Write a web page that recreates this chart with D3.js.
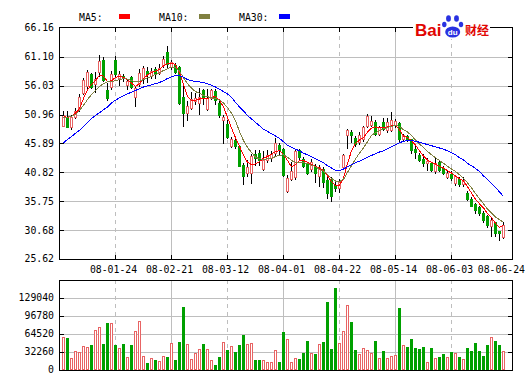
<!DOCTYPE html>
<html>
<head>
<meta charset="utf-8">
<script src="https://d3js.org/d3.v7.min.js"></script>
<style>
  body { margin: 0; background: #fff; }
  svg text { font-family: "DejaVu Sans Mono", monospace; font-size: 9.8px; fill: #000; }
  .grid { stroke: #bebebe; stroke-width: 1; shape-rendering: crispEdges; }
  .frame { stroke: #000; fill: none; stroke-width: 1; shape-rendering: crispEdges; }
  .tick { stroke: #000; stroke-width: 1; shape-rendering: crispEdges; }
</style>
</head>
<body>
<div id="chart"></div>
<script>
// daily candles: [open, high, low, close]
const ohlc = [
  [49.0,51.6,48.9,50.9],[50.5,51.6,48.7,48.8],[48.7,50.9,48.5,50.6],[50.6,52.2,50.4,51.6],[51.9,54.6,51.6,54.0],
  [54.8,57.3,54.6,57.0],[55.9,58.8,55.6,58.5],[58.0,58.2,55.6,55.8],[56.3,58.5,54.9,57.2],[58.5,61.5,57.8,60.4],
  [60.5,61.1,56.8,57.0],[55.2,56.5,53.5,53.9],[55.8,58.6,55.4,58.0],[60.5,61.3,57.6,58.0],[57.4,58.6,56.2,58.0],
  [57.8,58.1,56.9,57.4],[56.2,57.2,55.4,56.9],[57.5,57.7,55.6,55.8],[54.0,56.0,52.5,55.6],[56.4,58.9,56.0,58.3],
  [57.4,59.5,56.5,59.1],[58.6,59.4,56.6,58.0],[57.7,59.1,57.4,58.6],[58.9,59.4,57.4,58.0],[58.3,59.8,58.0,59.1],
  [59.6,61.3,59.3,60.8],[61.9,63.0,59.4,59.8],[59.3,60.6,58.9,60.2],[59.6,60.0,58.3,58.5],[59.3,59.5,52.8,53.0],
  [54.1,55.9,48.9,51.2],[51.2,53.3,50.0,52.4],[52.2,55.0,52.0,53.7],[53.3,54.7,52.8,53.9],[53.0,55.6,51.1,54.1],
  [55.2,55.4,52.9,53.8],[51.9,55.4,51.8,53.8],[53.9,55.4,53.7,55.2],[55.1,55.4,52.9,53.6],[53.0,53.6,50.6,50.9],
  [50.0,50.9,45.9,50.5],[49.3,50.0,46.8,47.1],[45.5,47.1,45.3,46.7],[46.5,46.8,45.1,45.4],[45.4,45.7,41.9,42.0],
  [42.1,42.4,38.8,40.1],[40.8,43.0,40.1,41.8],[40.8,44.1,38.9,43.7],[44.1,44.7,42.2,43.3],[44.2,44.8,42.1,43.0],
  [41.4,44.5,41.3,43.0],[43.0,44.8,42.7,43.9],[43.3,44.5,42.9,44.0],[44.2,46.8,43.9,45.9],[45.6,46.0,43.9,44.8],
  [44.9,45.1,40.2,40.4],[37.5,40.4,37.3,39.9],[39.7,42.6,39.4,41.1],[40.0,44.8,39.7,44.5],[44.8,45.0,43.2,43.6],
  [43.1,43.5,41.7,42.0],[42.3,42.6,40.5,40.8],[41.4,43.2,41.1,42.7],[42.0,42.3,39.1,40.7],[40.2,42.1,38.5,41.7],
  [41.4,41.7,38.2,39.1],[39.4,40.0,36.3,37.2],[39.7,40.0,35.8,36.7],[38.6,39.2,37.6,38.0],[38.0,39.7,37.3,39.1],
  [41.7,44.1,41.5,43.9],[47.3,48.5,45.1,48.3],[47.9,48.2,46.1,47.3],[46.8,47.2,45.5,45.8],[46.2,47.9,45.8,47.4],
  [46.7,48.9,46.4,48.7],[49.0,51.1,48.7,50.7],[49.1,50.7,48.9,49.9],[49.7,50.1,47.4,47.6],[47.6,49.0,47.3,48.7],
  [49.6,50.4,48.2,48.4],[48.2,50.4,47.9,49.6],[48.3,51.4,48.1,50.0],[49.1,50.2,48.7,49.9],[49.5,49.6,46.3,46.6],
  [46.7,47.5,46.5,47.3],[47.2,47.4,46.4,46.7],[46.6,46.7,44.2,44.8],[45.0,45.4,43.4,44.4],[43.8,44.2,42.8,43.0],
  [43.2,44.0,41.9,42.4],[42.5,43.4,41.3,42.8],[42.4,42.6,41.0,41.3],[41.0,43.4,40.8,42.5],[42.6,42.8,41.0,41.2],
  [41.6,41.9,40.6,40.8],[40.0,41.3,39.8,40.8],[40.6,41.0,39.5,39.8],[38.9,40.4,38.6,40.1],[39.7,40.0,38.5,38.7],
  [38.7,40.0,38.5,39.5],[37.2,37.5,36.0,36.2],[36.2,36.5,34.9,35.0],[35.2,35.5,33.7,34.3],[34.8,35.0,33.4,33.7],
  [33.7,34.0,32.2,32.5],[33.1,33.4,31.3,31.5],[31.4,32.8,29.7,32.5],[32.1,32.2,29.7,30.2],[30.5,30.6,28.9,30.2],
  [29.5,32.1,29.3,31.6]
];

const volume = [
  59700,58000,22100,34600,32900,43600,41800,44200,72300,77700,
  47200,84800,84800,44200,40000,46000,23900,44200,70500,88400,
  25700,11900,21500,18500,16700,25700,23900,49000,18500,50800,
  112300,47200,20300,31100,38200,47200,37600,17900,9600,23900,
  50200,35800,43000,31700,45400,63300,46600,48400,17900,17900,
  17900,14300,14300,35800,14300,68700,55600,14300,21500,19700,
  31100,52000,31100,29300,46600,50200,121900,37600,147000,48400,
  69900,116500,86000,35800,28700,39400,35800,31100,52000,21500,
  34100,21500,25100,27500,111100,44800,41800,55600,39400,37600,
  41200,14300,39400,21500,23900,28700,23300,32300,30500,23300,
  19700,39400,34600,48400,34100,25100,44800,59100,52000,45400,
  34100
];

const ma5 = [
  50.6,50.5,50.6,51.2,52.0,53.8,55.3,56.3,56.9,57.9,
  57.7,56.8,56.9,57.5,57.7,57.5,57.1,56.5,55.9,56.4,
  57.3,57.9,58.3,58.6,58.9,59.5,59.9,60.0,59.7,58.3,
  56.2,54.2,53.4,53.5,53.7,53.8,53.8,54.0,54.1,53.5,
  52.3,50.5,48.6,46.9,45.4,43.8,42.6,42.2,42.3,42.7,
  43.3,43.6,44.0,44.5,44.6,44.0,42.9,41.8,42.2,42.9,
  42.9,42.6,42.2,41.9,41.6,41.1,40.2,39.2,38.5,38.6,
  39.8,42.4,44.6,45.9,46.5,46.9,47.9,48.6,48.8,48.7,
  48.7,48.8,49.0,49.1,48.3,47.2,46.9,46.4,45.6,44.6,
  43.7,43.0,42.6,42.3,41.9,41.6,41.1,40.7,40.2,39.7,
  39.3,38.3,37.2,36.1,35.3,34.6,33.6,32.9,31.9,31.2,
  31.5
];

const ma10 = [
  50.4,50.5,50.7,51.0,51.7,52.6,53.6,54.5,55.2,55.9,
  56.4,56.7,56.8,56.9,57.1,57.3,57.2,56.9,56.8,56.8,
  57.1,57.4,57.7,58.0,58.3,58.7,59.0,59.3,59.2,58.6,
  57.4,56.4,55.6,55.0,54.7,54.3,54.1,53.9,53.8,53.5,
  53.0,52.2,51.2,49.9,48.0,46.4,45.2,44.3,43.5,43.2,
  43.1,43.2,43.3,43.6,43.8,43.9,43.5,42.9,42.6,42.6,
  42.5,42.4,42.1,41.8,41.4,41.0,40.5,39.8,39.3,39.2,
  39.6,40.8,42.0,43.2,44.2,45.1,46.2,47.3,47.8,48.1,
  48.5,48.7,48.9,49.1,48.9,48.3,47.9,47.3,46.5,45.8,
  45.2,44.5,43.9,43.4,42.9,42.4,41.9,41.4,41.0,40.4,
  39.8,39.0,38.1,37.1,36.2,35.3,34.4,33.7,33.0,32.5,
  32.1
];

const ma30 = [
  46.0,46.6,47.1,47.7,48.2,48.9,49.6,50.3,50.8,51.3,
  51.8,52.3,53.0,53.5,53.9,54.3,54.6,54.9,55.2,55.5,
  55.8,56.0,56.2,56.4,56.6,56.9,57.3,57.6,57.8,57.8,
  57.5,57.1,56.9,56.8,56.7,56.6,56.4,56.1,55.8,55.4,
  55.0,54.6,54.0,53.1,52.3,51.6,50.8,50.2,49.6,49.0,
  48.4,48.0,47.6,47.2,46.8,46.2,45.6,45.2,44.9,44.6,
  44.2,43.9,43.6,43.2,42.9,42.5,42.0,41.6,41.2,41.1,
  41.4,41.8,42.2,42.5,42.8,43.1,43.5,43.8,44.1,44.4,
  44.6,45.0,45.3,45.7,46.0,46.3,46.4,46.4,46.3,46.1,
  45.9,45.7,45.5,45.3,45.1,44.9,44.6,44.3,43.9,43.4,
  43.0,42.4,42.0,41.5,41.0,40.2,39.6,38.9,38.2,37.4,
  36.6
];

// date labels and the candle they sit under
const dateLabels = ["08-01-24","08-02-21","08-03-12","08-04-01","08-04-22","08-05-14","08-06-03","08-06-24"];
const dateIndex  = [13, 27, 41, 55, 69, 83, 97, 110];

const priceTicks  = [25.62, 30.68, 35.75, 40.82, 45.89, 50.96, 56.03, 61.10, 66.16];
const volumeTicks = [0, 32260, 64520, 96780, 129040];

const maNames  = ["MA5:", "MA10:", "MA30:"];
const maColors = ["#ff0000", "#808040", "#0000ff"];

const RED = "#e86464", GREEN = "#00a000";

const W = 525, H = 387;
const L = 60, R = 512;
const pTop = 28, pBot = 259;
const vTop = 280, vBot = 370;

const svg = d3.select("#chart").append("svg")
  .attr("width", W).attr("height", H);

const x = d3.scaleBand().domain(d3.range(ohlc.length)).range([61.5, 505.5]);
const cx = i => Math.floor(x(i) + x.bandwidth() / 2) + 0.5;

const y = d3.scaleLinear().domain([25.62, 66.16]).range([pBot, pTop]);
const yv = d3.scaleLinear().domain([0, 161300]).range([vBot, vTop]);
const py = v => Math.round(v) + 0.5;

// ---------- grids ----------
function vGrid(top, bot) {
  dateIndex.slice(0, -1).forEach((d, k) => {
    svg.append("line").attr("class", "grid")
      .attr("x1", cx(d)).attr("x2", cx(d))
      .attr("y1", top).attr("y2", bot)
      .attr("stroke-dasharray", k % 2 === 0 ? "4,4" : null);
  });
}

// price panel
priceTicks.slice(1, -1).forEach(v => {
  svg.append("line").attr("class", "grid")
    .attr("x1", L).attr("x2", R).attr("y1", py(y(v))).attr("y2", py(y(v)));
});
vGrid(pTop, pBot);

// volume panel
volumeTicks.slice(1).forEach(v => {
  svg.append("line").attr("class", "grid")
    .attr("x1", L).attr("x2", R).attr("y1", py(yv(v))).attr("y2", py(yv(v)));
});
vGrid(vTop, vBot);

// ---------- volume bars ----------
volume.forEach((v, i) => {
  const [o, , , c] = ohlc[i];
  const up = c >= o;
  const top = Math.round(yv(v));
  if (up) {
    svg.append("rect").attr("x", cx(i) - 1).attr("y", top + 0.5)
      .attr("width", 2).attr("height", vBot - top - 1)
      .attr("fill", "#fff").attr("stroke", RED).attr("shape-rendering", "crispEdges");
  } else {
    svg.append("rect").attr("x", cx(i) - 1.5).attr("y", top)
      .attr("width", 3).attr("height", vBot - top)
      .attr("fill", GREEN).attr("shape-rendering", "crispEdges");
  }
});

// ---------- candles ----------
ohlc.forEach(([o, h, l, c], i) => {
  const up = c >= o;
  const col = up ? RED : GREEN;
  svg.append("line").attr("class", "tick")
    .attr("stroke", col)
    .attr("x1", cx(i)).attr("x2", cx(i))
    .attr("y1", Math.round(y(h))).attr("y2", Math.round(y(l)) + 1);
  const yo = Math.round(y(o)), yc = Math.round(y(c));
  if (up) {
    svg.append("rect").attr("x", cx(i) - 1).attr("y", yc + 0.5)
      .attr("width", 2).attr("height", Math.max(yo - yc, 1))
      .attr("fill", "#fff").attr("stroke", col).attr("shape-rendering", "crispEdges");
  } else {
    svg.append("rect").attr("x", cx(i) - 1.5).attr("y", yo)
      .attr("width", 3).attr("height", Math.max(yc - yo, 1) + 1)
      .attr("fill", col).attr("shape-rendering", "crispEdges");
  }
});

// ---------- moving averages ----------
const line = d3.line().x((d, i) => cx(i)).y(d => y(d));
[ma5, ma10, ma30].forEach((s, k) => {
  svg.append("path").datum(s)
    .attr("d", line).attr("fill", "none")
    .attr("stroke", maColors[k]).attr("stroke-width", 1)
    .attr("shape-rendering", "crispEdges");
});

// ---------- frames & ticks ----------
svg.append("rect").attr("class", "frame")
  .attr("x", L - 0.5).attr("y", pTop - 0.5).attr("width", R - L + 1).attr("height", pBot - pTop + 1);
svg.append("rect").attr("class", "frame")
  .attr("x", L - 0.5).attr("y", vTop + 0.5).attr("width", R - L + 1).attr("height", vBot - vTop);

priceTicks.slice(1, -1).forEach(v => {
  const yy = py(y(v));
  svg.append("line").attr("class", "tick").attr("x1", L).attr("x2", L + 4).attr("y1", yy).attr("y2", yy);
  svg.append("line").attr("class", "tick").attr("x1", R - 4).attr("x2", R).attr("y1", yy).attr("y2", yy);
});
dateIndex.slice(0, -1).forEach(d => {
  svg.append("line").attr("class", "tick").attr("x1", cx(d)).attr("x2", cx(d)).attr("y1", pTop).attr("y2", pTop + 4);
  svg.append("line").attr("class", "tick").attr("x1", cx(d)).attr("x2", cx(d)).attr("y1", pBot - 4).attr("y2", pBot);
});
volumeTicks.slice(1).forEach(v => {
  const yy = py(yv(v));
  svg.append("line").attr("class", "tick").attr("x1", L).attr("x2", L + 4).attr("y1", yy).attr("y2", yy);
  svg.append("line").attr("class", "tick").attr("x1", R - 4).attr("x2", R).attr("y1", yy).attr("y2", yy);
});

// ---------- labels ----------
priceTicks.forEach(v => {
  svg.append("text").attr("x", 54).attr("y", y(v)).attr("dy", "0.35em")
    .attr("text-anchor", "end").text(v.toFixed(2));
});
volumeTicks.forEach(v => {
  svg.append("text").attr("x", 54).attr("y", yv(v)).attr("dy", "0.35em")
    .attr("text-anchor", "end").text(v);
});
dateLabels.forEach((t, k) => {
  const last = k === dateLabels.length - 1;
  svg.append("text").attr("x", last ? W : cx(dateIndex[k]) - 2).attr("y", 272.5)
    .attr("text-anchor", last ? "end" : "middle").text(t);
});

// legend
maNames.forEach((t, k) => {
  svg.append("text").attr("x", 79 + k * 80).attr("y", 20.5).text(t);
  svg.append("rect").attr("x", 119 + k * 80).attr("y", 14)
    .attr("width", 11).attr("height", 5).attr("fill", maColors[k]);
});

// Baidu logo
const logo = svg.append("g");
logo.append("rect").attr("x", 413).attr("y", 14).attr("width", 77).attr("height", 25).attr("fill", "#fff");
logo.append("text").attr("x", 415).attr("y", 36)
  .style("font-family", "'Liberation Sans', Arial, sans-serif").style("font-weight", "bold")
  .style("font-size", "17px").style("fill", "#e10602").text("Bai");
const paw = logo.append("g").attr("fill", "#2932e1");
[[448.5, 18.5, 2.4, 3.2], [456.5, 18.5, 2.4, 3.2], [444.3, 24.5, 2.2, 2.8], [461, 24.5, 2.2, 2.8]]
  .forEach(([ex, ey, rx, ry]) => paw.append("ellipse").attr("cx", ex).attr("cy", ey).attr("rx", rx).attr("ry", ry));
paw.append("ellipse").attr("cx", 452.7).attr("cy", 32).attr("rx", 7.5).attr("ry", 5.5);
logo.append("text").attr("x", 452.7).attr("y", 35).attr("text-anchor", "middle")
  .style("font-family", "'Liberation Sans', Arial, sans-serif").style("font-weight", "bold")
  .style("font-size", "8px").style("fill", "#fff").text("du");
logo.append("text").attr("x", 465).attr("y", 35)
  .style("font-family", "'Noto Sans CJK SC', sans-serif").style("font-weight", "bold")
  .style("font-size", "12px").style("fill", "#e10602").text("财经");
</script>
</body>
</html>
